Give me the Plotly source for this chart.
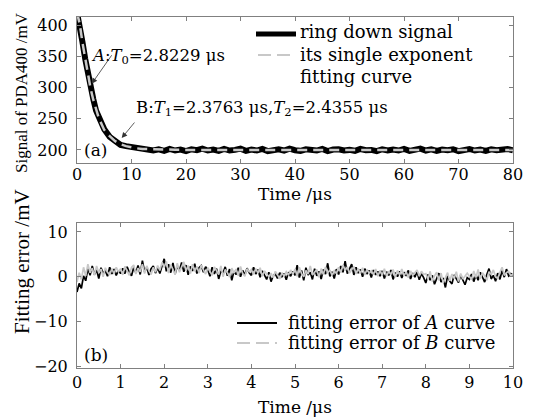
import plotly.graph_objects as go

# ---------------- data: panel (a) ----------------
sig_t = [0, 0.5, 1, 1.5, 2, 2.5, 3, 3.5, 4, 5, 6, 7, 8, 9, 10, 11, 12, 13, 14,
         15, 16, 17, 18, 19, 20, 21, 22, 23, 24, 25, 26, 27, 28, 29, 30,
         31, 32, 33, 34, 35, 36, 37, 38, 39, 40, 41, 42, 43, 44, 45,
         46, 47, 48, 49, 50, 51, 52, 53, 54, 55, 56, 57, 58, 59, 60,
         61, 62, 63, 64, 65, 66, 67, 68, 69, 70, 71, 72, 73, 74, 75,
         76, 77, 78, 79, 80]
sig_v = [420, 401, 373, 346, 321, 297, 281, 263, 252, 233, 221, 215, 208, 206, 205, 202, 201, 200, 199,
         201, 198.5, 201.5, 199, 200.5, 198, 201, 199.5, 202, 199, 200.5, 198.5, 201.5, 199, 200, 202,
         198.5, 200.5, 199, 201.5, 198, 200, 201, 199, 202, 199.5, 198.5, 201, 200, 199, 201.5,
         198, 200.5, 201, 199, 200, 198.5, 201.5, 199.5, 200, 198, 201, 199, 200.5, 199, 201.5,
         198.5, 200, 202, 199, 201, 198.5, 200.5, 199.5, 201, 198, 200, 201.5, 199, 200.5, 198.5,
         201, 199.5, 200, 201.5, 199.5]

fit_t = [0, 0.5, 1, 1.5, 2, 2.5, 3, 3.5, 4, 5, 6, 7, 8, 9, 10, 11, 12, 14, 16, 18, 20, 80]
fit_v = [420, 402, 372, 347, 320, 298, 280, 264, 251, 232, 222, 214, 209, 206, 204, 202.5,
         201.6, 200.8, 200.4, 200.2, 200, 200]

# ---------------- data: panel (b) ----------------
err_step = 0.05
err_a = [
    -3.4, -1.5, -2.6, 0.2, -0.9, 1.8, 0.3, 2.4, 0.5, 1.5, -0.4, 2.0, 0.8, 1.3, 0.1, 2.1, 0.6, 1.7, 0.3, 1.4,
    0.7, 1.9, 0.7, 2.2, 1.0, 0.2, 2.0, 0.9, 2.5, 0.5, 3.6, 1.1, 2.1, 0.4, 1.8, 2.4, 0.8, 2.0, 0.7, 2.7,
    4.0, 1.2, 2.8, 0.9, 3.1, 0.6, 2.4, 1.4, 3.2, 1.1, 2.6, 0.4, 2.3, 1.3, 2.9, 0.7, 2.0, 2.5, 1.0, 2.2,
    1.5, 0.1, 2.1, 0.6, 1.8, -0.5, 1.3, 0.8, 2.2, 0.2, 1.7, -0.8, 1.2, 0.5, 2.0, 0.0, 1.4, 0.4, 1.9, 0.9,
    0.3, 2.1, 0.6, 1.6, -0.1, 1.3, 0.5, -0.6, 1.0, -1.1, 0.2, 0.6, -0.4, 0.9, 0.0, 0.7, -0.7, 1.0, 0.1, 1.2,
    0.3, 2.6, -0.2, 1.4, -0.8, 2.0, 0.4, 1.0, -0.6, 1.8, 0.2, 1.2, -0.5, 1.6, 0.6, 3.0, 0.1, 1.1, -0.4, 1.7,
    0.5, 2.4, 1.0, 3.5, 0.7, 1.9, 2.8, 0.4, 2.1, 0.8, 1.6, 0.0, 1.8, 0.6, 1.4, -0.2, 1.5, 0.4, 1.2, 0.1,
    1.3, -0.4, 1.1, 0.3, 1.5, -0.6, 0.9, 0.0, 1.2, -0.3, 1.0, 0.2, 1.4, -0.5, 0.8, -0.1, 1.1, -0.7, 0.7, -0.2,
    -1.4, 0.5, -0.8, 0.3, -1.7, -0.4, 0.8, -1.2, -0.3, -2.4, 0.2, -1.0, -1.6, 0.4, -0.6, -1.3, 0.3, -0.9, -1.8, -0.2,
    -0.6, 0.6, -1.1, 0.4, -0.8, 1.0, -0.3, -1.2, 0.5, 1.8, -0.5, 0.3, -1.0, 0.8, -0.6, 1.4, -0.1, 1.7, 0.2, 0.7,
    0.4,
]
err_b = [
    -1.2, 0.9, -0.6, 2.1, 0.2, 2.8, 0.9, 1.9, 0.3, 2.4, 0.8, 1.7, 0.0, 2.0, 1.0, 0.4, 1.8, 0.6, 2.1, 1.1,
    1.8, 0.4, 2.3, 1.2, 0.3, 2.1, 2.6, 0.6, 1.9, 1.1, 2.8, 0.7, 2.4, 1.3, 0.5, 2.1, 1.0, 2.5, 1.4, 3.2,
    2.1, 3.4, 0.8, 2.7, 1.7, 0.5, 3.0, 1.0, 2.2, 3.3, 1.3, 2.5, 0.7, 2.8, 1.2, 2.3, 0.8, 2.6, 1.5, 0.6,
    2.0, 1.0, 0.3, 2.2, 1.2, 0.5, 2.4, 0.0, 1.6, 0.9, -0.1, 1.9, 0.8, 1.7, 0.2, 2.3, 0.7, 0.1, 1.8, 1.1,
    1.6, 0.5, 1.8, 0.8, 2.0, 0.1, 1.3, 0.7, 0.0, 0.8, -0.2, 1.2, 0.3, -0.5, 0.9, 0.1, 1.1, 0.4, 1.5, 0.5,
    1.7, 0.1, 2.1, 0.7, 0.0, 1.4, 0.6, 2.4, 0.4, 1.1, 1.6, -0.1, 1.8, 0.5, 2.2, 0.8, 1.5, 0.3, 1.3, 0.7,
    2.1, 0.9, 2.6, 1.4, 2.2, 0.8, 1.5, 2.3, 0.6, 1.8, 0.7, 2.0, 0.4, 1.6, 0.8, 1.3, 0.5, 1.7, 0.1, 1.4,
    0.3, 1.8, 0.1, 1.2, 0.5, 1.6, -0.1, 1.4, 0.4, 1.7, 0.2, 1.1, -0.2, 1.3, 0.3, 1.0, 1.5, 0.1, 1.2, 0.5,
    0.7, -0.6, 1.2, -1.1, 0.2, 1.0, -0.8, 0.8, -1.4, -0.2, 0.9, -0.9, 0.6, -0.4, 1.1, -1.1, 0.7, -0.5, 0.2, 0.8,
    0.1, -0.7, 1.3, -0.2, 1.6, -0.5, 0.9, 0.2, -0.8, 1.1, 0.5, 1.5, 0.0, -0.4, 1.0, 2.1, 0.3, 0.9, 1.2, 0.2,
    0.6,
]
err_t = [i * err_step for i in range(len(err_a))]

top_xticks = [0, 10, 20, 30, 40, 50, 60, 70, 80]
top_yticks = [200, 250, 300, 350, 400]
bot_xticks = [0, 1, 2, 3, 4, 5, 6, 7, 8, 9, 10]
bot_yticks = [-20, -10, 0, 10]

# ---------------- layout helpers (page has an 8px body margin) ----------------
OFF = 8
W, H = 533 - OFF, 417 - OFF
ML, MR, MT, MB = 77 - OFF, 20, 17 - OFF, 49
PW, PH = W - ML - MR, H - MT - MB


def px(x):
    return (x - OFF - ML) / PW


def py(y):
    return (H - MB - (y - OFF)) / PH


FONT = "DejaVu Serif"
TFONT = "Liberation Serif"
FS = 16
AX = "#808080"
GRAY = "#c8c8c8"

fig = go.Figure()
fig.add_trace(go.Scatter(x=sig_t, y=sig_v, mode="lines", line=dict(color="black", width=6),
                         showlegend=False, xaxis="x", yaxis="y"))
fig.add_trace(go.Scatter(x=fit_t, y=fit_v, mode="lines",
                         line=dict(color=GRAY, width=2.5, dash="10px,6px"),
                         showlegend=False, xaxis="x", yaxis="y"))
fig.add_trace(go.Scatter(x=err_t, y=err_a, mode="lines", line=dict(color="black", width=1.7),
                         showlegend=False, xaxis="x2", yaxis="y2"))
fig.add_trace(go.Scatter(x=err_t, y=err_b, mode="lines", line=dict(color=GRAY, width=1.7),
                         showlegend=False, xaxis="x2", yaxis="y2"))

axcommon = dict(showline=True, linecolor=AX, linewidth=1, mirror="ticks", ticks="inside",
                ticklen=4, tickcolor=AX, showgrid=False, zeroline=False,
                tickfont=dict(family=FONT, size=FS, color="black"))

fig.update_layout(
    width=W, height=H, margin=dict(l=ML, r=MR, t=MT, b=MB),
    paper_bgcolor="white", plot_bgcolor="white", showlegend=False,
    font=dict(family=FONT, size=FS, color="black"),
    xaxis=dict(domain=[0, 1], anchor="y", range=[0, 80], tickvals=top_xticks,
               ticklabelstandoff=-3, **axcommon),
    yaxis=dict(domain=[py(163), 1], anchor="x", range=[179, 413], tickvals=top_yticks,
               ticklabelstandoff=5, **axcommon),
    xaxis2=dict(domain=[0, 1], anchor="y2", range=[0, 10], tickvals=bot_xticks,
                ticklabelstandoff=0, **axcommon),
    yaxis2=dict(domain=[0, py(223)], anchor="x2", range=[-20.4, 12], tickvals=bot_yticks,
                ticklabelstandoff=5, tickformat="d", **axcommon),
)

ann = []
# axis titles
ann.append(dict(text="Signal of PDA400 /mV", x=px(22), y=py(93), xref="paper", yref="paper",
                textangle=-90, showarrow=False, xanchor="center", yanchor="middle",
                font=dict(family=TFONT, size=17)))
ann.append(dict(text="Fitting error /mV", x=px(22), y=py(262), xref="paper", yref="paper",
                textangle=-90, showarrow=False, xanchor="center", yanchor="middle",
                font=dict(family=TFONT, size=21)))
ann.append(dict(text="Time /μs", x=px(295), y=py(194), xref="paper", yref="paper",
                showarrow=False, xanchor="center", yanchor="middle", font=dict(size=17)))
ann.append(dict(text="Time /μs", x=px(295), y=py(407), xref="paper", yref="paper",
                showarrow=False, xanchor="center", yanchor="middle", font=dict(size=17)))
# panel labels
ann.append(dict(text="(a)", x=px(82), y=py(150), xref="paper", yref="paper",
                showarrow=False, xanchor="left", yanchor="middle", font=dict(size=17)))
ann.append(dict(text="(b)", x=px(82), y=py(355), xref="paper", yref="paper",
                showarrow=False, xanchor="left", yanchor="middle", font=dict(size=17)))
# fit labels
ann.append(dict(text="<i>A</i>:<i>T</i><sub>0</sub>=2.8229 μs", x=px(89), y=py(56),
                xref="paper", yref="paper", showarrow=False, xanchor="left", yanchor="middle",
                font=dict(size=16.5)))
ann.append(dict(text="B:<i>T</i><sub>1</sub>=2.3763 μs,<i>T</i><sub>2</sub>=2.4355 μs",
                x=px(134), y=py(108), xref="paper", yref="paper", showarrow=False,
                xanchor="left", yanchor="middle", font=dict(size=16.5)))
# arrows
ann.append(dict(text="", x=2.7, y=306, xref="x", yref="y", showarrow=True, arrowhead=2,
                arrowsize=1.4, arrowwidth=0.8, arrowcolor="#333333", ax=21, ay=-30))
ann.append(dict(text="", x=8.2, y=219, xref="x", yref="y", showarrow=True, arrowhead=2,
                arrowsize=1.4, arrowwidth=0.8, arrowcolor="#333333", ax=14, ay=-17))
# legend texts
LFS = 18
ann.append(dict(text="ring down signal", x=px(298), y=py(32), xref="paper", yref="paper",
                showarrow=False, xanchor="left", yanchor="middle", font=dict(size=LFS)))
ann.append(dict(text="its single exponent", x=px(298), y=py(55), xref="paper", yref="paper",
                showarrow=False, xanchor="left", yanchor="middle", font=dict(size=LFS)))
ann.append(dict(text="fitting curve", x=px(298), y=py(77), xref="paper", yref="paper",
                showarrow=False, xanchor="left", yanchor="middle", font=dict(size=LFS)))
ann.append(dict(text="fitting error of <i>A</i> curve", x=px(286), y=py(322), xref="paper",
                yref="paper", showarrow=False, xanchor="left", yanchor="middle", font=dict(size=LFS)))
ann.append(dict(text="fitting error of <i>B</i> curve", x=px(286), y=py(342), xref="paper",
                yref="paper", showarrow=False, xanchor="left", yanchor="middle", font=dict(size=LFS)))
fig.update_layout(annotations=ann)

shapes = [
    dict(type="line", xref="paper", yref="paper", x0=px(256), x1=px(296), y0=py(34), y1=py(34),
         line=dict(color="black", width=5)),
    dict(type="line", xref="paper", yref="paper", x0=px(258), x1=px(296), y0=py(55), y1=py(55),
         line=dict(color=GRAY, width=2, dash="13px,6px")),
    dict(type="line", xref="paper", yref="paper", x0=px(237), x1=px(277), y0=py(323), y1=py(323),
         line=dict(color="black", width=2)),
    dict(type="line", xref="paper", yref="paper", x0=px(237), x1=px(277), y0=py(343), y1=py(343),
         line=dict(color=GRAY, width=2, dash="13px,6px")),
]
fig.update_layout(shapes=shapes)

fig.write_html("out.html")
